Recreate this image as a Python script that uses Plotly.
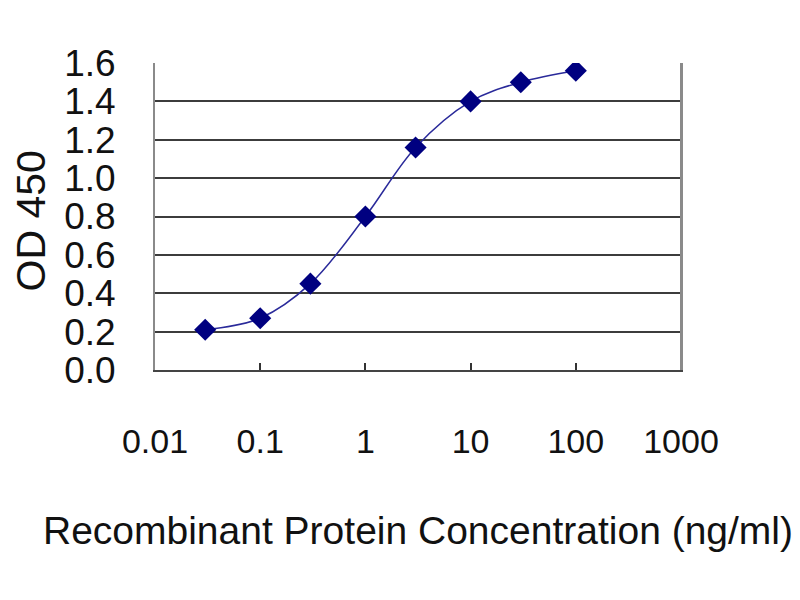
import plotly.graph_objects as go

# concentrations (ng/ml) and OD450 readings
conc = [0.03, 0.1, 0.3, 1, 3, 10, 30, 100]
od450 = [0.21, 0.27, 0.45, 0.80, 1.16, 1.40, 1.50, 1.56]

x_ticks = [0.01, 0.1, 1, 10, 100, 1000]
x_tick_text = ["0.01", "0.1", "1", "10", "100", "1000"]
y_ticks = [0.0, 0.2, 0.4, 0.6, 0.8, 1.0, 1.2, 1.4, 1.6]
y_tick_text = ["0.0", "0.2", "0.4", "0.6", "0.8", "1.0", "1.2", "1.4", "1.6"]

FONT = "Liberation Sans, Arial, sans-serif"

fig = go.Figure()
fig.add_trace(
    go.Scatter(
        x=conc,
        y=od450,
        mode="lines+markers",
        line=dict(color="#2a2a9a", width=1.5, shape="spline", smoothing=1),
        marker=dict(symbol="diamond", size=17, color="#000080"),
        showlegend=False,
    )
)

fig.update_layout(
    width=800,
    height=600,
    paper_bgcolor="white",
    plot_bgcolor="white",
    margin=dict(l=147, r=127, t=55, b=238, autoexpand=False),
    font=dict(family=FONT, color="#111111"),
    xaxis=dict(
        type="log",
        range=[-2, 3],
        tickvals=x_ticks,
        ticktext=x_tick_text,
        tickfont=dict(size=34),
        ticks="inside",
        ticklen=7,
        tickwidth=2,
        tickcolor="#333333",
        ticklabelstandoff=40,
        showgrid=False,
        showline=True,
        linecolor="#444444",
        linewidth=2,
        mirror=False,
        zeroline=False,
        title=dict(
            text="Recombinant Protein Concentration (ng/ml)",
            font=dict(size=39),
            standoff=58,
        ),
    ),
    yaxis=dict(
        range=[0, 1.6],
        tickvals=y_ticks,
        ticktext=y_tick_text,
        tickfont=dict(size=37),
        ticks="",
        ticklabelstandoff=30,
        showgrid=True,
        gridcolor="#3c3c3c",
        gridwidth=2,
        showline=True,
        linecolor="#8a8a8a",
        linewidth=2,
        mirror=True,
        zeroline=False,
    ),
)

# y axis title, placed further left than the axis title would allow
fig.add_annotation(
    text="OD 450", textangle=-90, showarrow=False,
    xref="paper", yref="paper", x=0, y=0.5,
    xanchor="center", yanchor="middle", xshift=-125, yshift=-5,
    borderpad=0, font=dict(size=41),
)

# right border of the plot box
fig.add_shape(
    type="line", xref="paper", yref="paper", x0=1, x1=1, y0=0, y1=1,
    line=dict(color="#8a8a8a", width=2),
)

fig.write_html("out.html")
